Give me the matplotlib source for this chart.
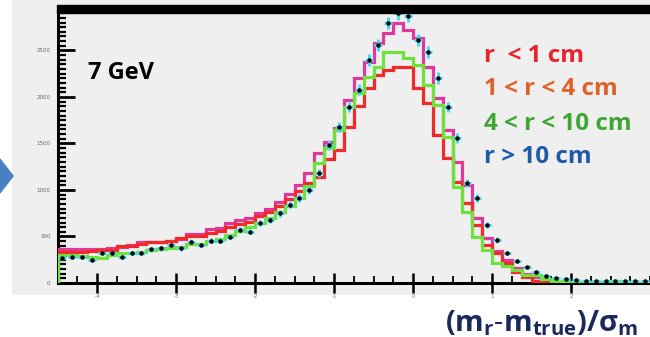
import numpy as np
import matplotlib
matplotlib.use('Agg')
import matplotlib.pyplot as plt
from matplotlib.patches import Rectangle, Polygon
from matplotlib.ticker import MultipleLocator

# --- data ---
bin_lo = -4.5
bin_w = 0.125

pink = [362, 362, 362, 370, 370, 380, 390, 410, 444, 444,
        444, 450, 470, 527, 527, 577, 590, 640, 677, 700,
        756, 792, 874, 957, 1054, 1182, 1397, 1516, 1666, 1967,
        2200, 2376, 2580, 2685, 2798, 2720, 2630, 2322, 1990, 1645,
        1300, 1054, 700, 480, 340, 250, 160, 100, 60, 30,
        10, 10, 5, 5, 5, 5, 5, 5, 5, 5]

red = [330, 330, 335, 345, 355, 355, 395, 400, 420, 440,
       440, 450, 480, 500, 505, 540, 560, 600, 630, 660,
       720, 760, 830, 900, 990, 1070, 1140, 1333, 1430, 1677,
       1900, 2100, 2236, 2290, 2322, 2322, 2096, 1935, 1591, 1343,
       1086, 860, 623, 408, 322, 215, 118, 60, 20, 10,
       0, 0, 0, 0, 0, 0, 0, 0, 0, 0]

green = [300, 300, 295, 280, 270, 300, 320, 320, 330, 360,
         370, 380, 390, 420, 420, 450, 470, 520, 555, 600,
         640, 700, 760, 830, 910, 1040, 1290, 1451, 1645, 1892,
         2042, 2215, 2322, 2483, 2483, 2419, 2344, 2128, 1913, 1570,
         1032, 760, 495, 355, 215, 180, 140, 86, 86, 40,
         20, 10, 10, 5, 10, 10, 20, 10, 5, 5]

cyan = [265, 283, 276, 247, 319, 319, 276, 319, 319, 362,
        373, 409, 373, 444, 409, 455, 455, 498, 570, 552,
        642, 677, 749, 839, 914, 1000, 1182, 1483, 1677, 1892,
        2075, 2397, 2558, 2795, 2900, 2870, 2612, 2483, 2204, 1892,
        1559, 1075, 914, 623, 462, 322, 240, 170, 118, 80,
        54, 40, 30, 25, 20, 25, 20, 20, 25, 20]

legend_labels = ['r  < 1 cm', '1 < r < 4 cm', '4 < r < 10 cm', 'r > 10 cm']
legend_colors = ['#e8232b', '#e0622a', '#3fa535', '#1f5aa8']

xticks = [-4, -3, -2, -1, 0, 1, 2]
yticks = [0, 500, 1000, 1500, 2000, 2500]

W, H = 650, 337

def fx(px):
    return px / W

def fy(py):
    return (H - py) / H

plt.rcParams['mathtext.fontset'] = 'custom'
plt.rcParams['mathtext.rm'] = 'Open Sans'
plt.rcParams['mathtext.bf'] = 'Open Sans:bold'
plt.rcParams['mathtext.it'] = 'Open Sans:italic'

fig = plt.figure(figsize=(6.5, 3.37), dpi=100)

# background axes holding the gray slide panel and the blue arrow
bg = fig.add_axes([0, 0, 1, 1], zorder=-1)
bg.set_xlim(0, W)
bg.set_ylim(H, 0)
bg.axis('off')
bg.add_patch(Rectangle((12, 0), W - 12, 295, color='#efefef', lw=0))
bg.add_patch(Polygon([(0, 158), (14, 176), (0, 194)], closed=True, color='#4a7fc0', lw=0))

ax = fig.add_axes([fx(57.5), fy(283), 1 - fx(57.5), fy(13.2) - fy(283)], zorder=1)
ax.set_facecolor('#efefef')
ax.set_axisbelow(False)

edges = bin_lo + bin_w * np.arange(len(cyan) + 1)
centers = 0.5 * (edges[:-1] + edges[1:])

ax.stairs(pink, edges, edgecolor='#e0389a', lw=2.3, zorder=3)
ax.stairs(red, edges, edgecolor='#f02a2a', lw=2.3, zorder=3.1)
ax.stairs(green, edges, edgecolor='#6ee23c', lw=2.3, zorder=3.2)
cy = np.array(cyan, dtype=float)
ax.errorbar(centers, cy, xerr=0.05, yerr=1.3 * np.sqrt(cy), fmt='o', ms=2.2,
            mfc='black', mec='black', ecolor='#48dcf2', elinewidth=2.2,
            capsize=0, zorder=4)

ax.set_xlim(-4.5, 3.0)
ax.set_ylim(0, 2900)

for s in ['top', 'right']:
    ax.spines[s].set_visible(False)
for s in ['left', 'bottom']:
    ax.spines[s].set_linewidth(2.2)
    ax.spines[s].set_color('black')

# ROOT style ticks: long comb inside the frame
ax.set_xticks(xticks)
ax.set_xticklabels([str(t) for t in xticks])
ax.xaxis.set_minor_locator(MultipleLocator(0.25))
ax.set_yticks(yticks)
ax.set_yticklabels([str(t) for t in yticks])
ax.yaxis.set_minor_locator(MultipleLocator(50))

ax.tick_params(axis='x', which='major', direction='inout', length=14, width=1.8,
               color='black', labelsize=4, labelcolor='#777777', pad=1)
ax.tick_params(axis='x', which='minor', direction='in', length=5, width=1.3, color='black')
ax.tick_params(axis='y', which='major', direction='in', length=12, width=2.0,
               color='black', labelsize=4, labelcolor='#666666', pad=5)
ax.tick_params(axis='y', which='minor', direction='in', length=6, width=1.6, color='black')

# thick black bar on top
fig.patches.append(Rectangle((fx(57), fy(13)), 1 - fx(57), fy(5) - fy(13),
                             transform=fig.transFigure, color='black', zorder=10))

fig.text(fx(88), fy(73), '7 GeV', fontsize=17, fontweight='bold', family='Open Sans',
         color='black', va='center', ha='left')

ys = [56, 89, 124, 157]
for lab, col, yy in zip(legend_labels, legend_colors, ys):
    fig.text(fx(484), fy(yy), lab, fontsize=17.5, fontweight='bold', family='Open Sans',
             color=col, va='center', ha='left')

fig.text(fx(445), fy(331), r'$\mathbf{(m_r\text{-}m_{true})/σ_m}$', fontsize=21,
         color='#1b2a5c', va='baseline', ha='left')

fig.savefig('out.png', dpi=100)
